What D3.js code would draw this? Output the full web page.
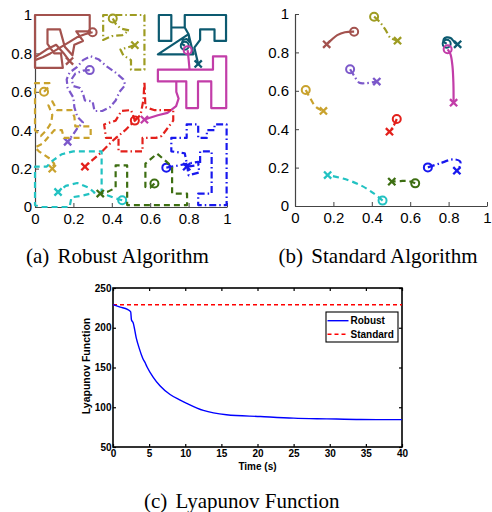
<!DOCTYPE html>
<html><head><meta charset="utf-8">
<script src="https://cdn.jsdelivr.net/npm/d3@7"></script>
<style>body{margin:0;background:#fff}svg{display:block}</style>
</head><body>
<svg id="c" width="492" height="512"></svg>
<script>
// ---------- data ----------
const agentNames = ["brown","olive","teal","magenta","purple","gold","red","blue","cyan","green"];
const agentColors = ["#A3524E","#9E9C22","#0C5A70","#C23DA8","#7C58CA","#C9A22D","#E3201B","#1818EE","#22C2C2","#3D6E12"];
const agentLineStyle = ["solid","dashdot","solid","solid","dashdot","dashed","dashdot","dashdot","dashed","dashed"];

// Robust algorithm trajectories [x, y]; first point = start (o), last point = end (x)
const robustBrown = [[0.30,0.91],[0.26,0.90],[0.22,0.885],[0.18,0.86],[0.13,0.83],[0.08,0.80],[0.04,0.78],[0.0,0.765],[0.0,1.0],[0.285,1.0],[0.285,0.915],[0.215,0.915],[0.25,0.865],[0.205,0.845],[0.195,0.79],[0.155,0.835],[0.13,0.925],[0.065,0.925],[0.065,0.85],[0.10,0.80],[0.135,0.80],[0.145,0.725],[0.0,0.725],[0.0,0.78],[0.06,0.82],[0.11,0.845],[0.15,0.80],[0.18,0.76]];
const robustOlive = [[0.405,0.982],[0.42,0.955],[0.445,0.93],[0.49,0.92],[0.455,0.895],[0.40,0.89],[0.355,0.87],[0.355,1.0],[0.57,1.0],[0.57,0.715],[0.50,0.715],[0.50,0.765],[0.46,0.79],[0.445,0.82],[0.48,0.83],[0.52,0.843]];
const robustTeal = [[0.78,0.84],[0.765,0.85],[0.77,0.87],[0.79,0.875],[0.805,0.86],[0.80,0.90],[0.64,0.795],[0.825,0.795],[0.80,0.90],[0.78,0.935],[0.71,0.935],[0.71,0.865],[0.645,0.865],[0.645,1.0],[0.71,1.0],[0.71,0.935],[0.78,0.935],[0.78,1.0],[0.995,1.0],[0.995,0.865],[0.935,0.865],[0.935,0.925],[0.86,0.925],[0.86,0.87],[0.83,0.83],[0.85,0.745]];
const robustMagenta = [[0.795,0.817],[0.80,0.77],[0.805,0.715],[0.927,0.715],[0.927,0.784],[0.996,0.784],[0.996,0.515],[0.918,0.515],[0.918,0.654],[0.849,0.654],[0.849,0.515],[0.788,0.515],[0.788,0.654],[0.64,0.654],[0.64,0.715],[0.805,0.715],[0.64,0.715],[0.64,0.654],[0.736,0.654],[0.736,0.60],[0.748,0.565],[0.735,0.525],[0.69,0.49],[0.64,0.478],[0.59,0.462],[0.57,0.455]];
const robustPurple = [[0.285,0.713],[0.25,0.71],[0.21,0.695],[0.19,0.665],[0.20,0.63],[0.235,0.62],[0.25,0.59],[0.26,0.555],[0.30,0.55],[0.31,0.50],[0.35,0.50],[0.39,0.52],[0.42,0.555],[0.44,0.60],[0.47,0.635],[0.46,0.665],[0.42,0.70],[0.37,0.735],[0.33,0.77],[0.29,0.785],[0.25,0.765],[0.22,0.73],[0.18,0.70],[0.165,0.665],[0.17,0.62],[0.20,0.57],[0.205,0.52],[0.22,0.47],[0.25,0.44],[0.22,0.41],[0.20,0.38],[0.17,0.34]];
const robustGold = [[0.047,0.60],[0.07,0.625],[0.075,0.645],[0.0,0.645],[0.0,0.40],[0.03,0.37],[0.06,0.40],[0.085,0.44],[0.09,0.48],[0.07,0.53],[0.09,0.55],[0.115,0.505],[0.19,0.505],[0.205,0.47],[0.21,0.42],[0.29,0.42],[0.29,0.36],[0.15,0.36],[0.14,0.40],[0.10,0.40],[0.04,0.33],[0.0,0.31],[0.02,0.29],[0.05,0.27],[0.08,0.25],[0.10,0.225],[0.09,0.20]];
const robustRed = [[0.52,0.45],[0.55,0.48],[0.565,0.56],[0.57,0.655],[0.575,0.52],[0.62,0.505],[0.72,0.505],[0.72,0.45],[0.69,0.41],[0.66,0.37],[0.63,0.36],[0.56,0.36],[0.56,0.29],[0.435,0.29],[0.435,0.36],[0.37,0.36],[0.36,0.43],[0.42,0.45],[0.45,0.50],[0.50,0.505],[0.52,0.45],[0.47,0.40],[0.41,0.35],[0.34,0.28],[0.26,0.21]];
const robustBlue = [[0.684,0.205],[0.74,0.215],[0.79,0.225],[0.85,0.235],[0.855,0.18],[0.80,0.165],[0.79,0.23],[0.78,0.28],[0.71,0.29],[0.71,0.36],[0.79,0.36],[0.79,0.43],[0.85,0.43],[0.85,0.36],[0.895,0.36],[0.895,0.40],[0.935,0.40],[0.935,0.43],[0.998,0.43],[0.998,0.01],[0.85,0.01],[0.85,0.07],[0.92,0.07],[0.92,0.29],[0.86,0.29],[0.86,0.22],[0.79,0.21]];
const robustCyan = [[0.454,0.035],[0.42,0.045],[0.38,0.06],[0.347,0.075],[0.347,0.29],[0.20,0.29],[0.14,0.275],[0.09,0.24],[0.06,0.21],[0.0,0.21],[0.0,0.01],[0.03,0.0],[0.18,0.0],[0.19,0.05],[0.25,0.06],[0.31,0.075],[0.28,0.10],[0.22,0.125],[0.16,0.11],[0.12,0.078]];
const robustGreen = [[0.622,0.122],[0.60,0.10],[0.575,0.104],[0.575,0.226],[0.636,0.278],[0.68,0.24],[0.714,0.209],[0.714,0.07],[0.792,0.07],[0.792,0.01],[0.48,0.01],[0.48,0.217],[0.42,0.217],[0.42,0.10],[0.38,0.08],[0.34,0.07]];

// Standard algorithm trajectories
const standardBrown = [[0.308,0.908],[0.26,0.905],[0.22,0.89],[0.19,0.865],[0.165,0.842]];
const standardOlive = [[0.412,0.986],[0.44,0.96],[0.47,0.92],[0.497,0.876],[0.534,0.861]];
const standardTeal = [[0.79,0.845],[0.775,0.855],[0.775,0.87],[0.79,0.878],[0.81,0.875],[0.825,0.86],[0.835,0.848],[0.847,0.842]];
const standardMagenta = [[0.795,0.816],[0.81,0.79],[0.82,0.73],[0.825,0.64],[0.826,0.538]];
const standardPurple = [[0.287,0.712],[0.31,0.675],[0.335,0.642],[0.37,0.64],[0.426,0.648]];
const standardGold = [[0.056,0.604],[0.08,0.56],[0.11,0.515],[0.148,0.495]];
const standardRed = [[0.53,0.453],[0.515,0.42],[0.492,0.387]];
const standardBlue = [[0.692,0.201],[0.755,0.222],[0.825,0.243],[0.86,0.232],[0.86,0.21],[0.843,0.184]];
const standardCyan = [[0.456,0.028],[0.41,0.066],[0.34,0.109],[0.25,0.143],[0.17,0.161]];
const standardGreen = [[0.626,0.118],[0.59,0.13],[0.55,0.13],[0.504,0.127]];

const robustPaths = [robustBrown,robustOlive,robustTeal,robustMagenta,robustPurple,robustGold,robustRed,robustBlue,robustCyan,robustGreen];
const standardPaths = [standardBrown,standardOlive,standardTeal,standardMagenta,standardPurple,standardGold,standardRed,standardBlue,standardCyan,standardGreen];

const unitTicks = [0,0.2,0.4,0.6,0.8,1];
const unitTickLabels = ["0","0.2","0.4","0.6","0.8","1"];

// Lyapunov function
const lyapTime   = [0,1,2,2.45,2.55,2.8,3.2,3.6,4.1,4.5,4.7,5.55,6.5,7.9,9.3,10.2,12.5,15.7,20.4,25,29.6,34.3,40];
const lyapRobust = [229,226,223,220,210,206,188,175,162,155,151,138,127,116,109,105,96,90.5,88.3,86.3,85.4,84.6,84.4];
const lyapStdTime = [0,40];
const lyapStandard = [229,229];
const lyapXTicks = [0,5,10,15,20,25,30,35,40];
const lyapYTicks = [50,100,150,200,250];
const legendLabels = ["Robust","Standard"];
const xLabel = "Time (s)", yLabel = "Lyapunov Function";
const captions = [["(a)","Robust Algorithm"],["(b)","Standard Algorithm"],["(c)","Lyapunov Function"]];

// ---------- drawing ----------
const svg = d3.select("#c");
const dashes = {solid:null, dashed:"6,4", dashdot:"7,3,1.5,3"};
const sans = "'Liberation Sans', Arial, Helvetica, sans-serif";
const serif = "'Liberation Serif', 'Times New Roman', serif";

function trajPanel(paths, xr, yr, ypad, curve) {
  const x = d3.scaleLinear([0,1], xr), y = d3.scaleLinear([0,1], yr);
  const g = svg.append("g");
  const fmt = (d,i) => unitTickLabels[unitTicks.indexOf(d)];
  const ax = g.append("g").attr("transform", `translate(0,${yr[0]})`)
    .call(d3.axisBottom(x).tickValues(unitTicks).tickFormat(fmt).tickSizeInner(-4).tickSizeOuter(0).tickPadding(6));
  const ay = g.append("g").attr("transform", `translate(${xr[0]},0)`)
    .call(d3.axisLeft(y).tickValues(unitTicks).tickFormat(fmt).tickSizeInner(-4).tickSizeOuter(0).tickPadding(ypad));
  [ax, ay].forEach(a => {
    a.select(".domain").attr("stroke","#444").attr("stroke-width",1.2);
    a.selectAll(".tick line").attr("stroke","#444");
    a.selectAll("text").attr("font-family", sans).attr("font-size", 15).attr("fill","#000");
  });
  const line = d3.line().x(d => x(d[0])).y(d => y(d[1])).curve(curve);
  paths.forEach((p, i) => {
    const col = agentColors[i];
    g.append("path").attr("d", line(p)).attr("fill","none").attr("stroke", col)
      .attr("stroke-width", 2.2).attr("stroke-linejoin","round")
      .attr("stroke-dasharray", dashes[agentLineStyle[i]]);
    const s = p[0], e = p[p.length-1];
    g.append("circle").attr("cx", x(s[0])).attr("cy", y(s[1])).attr("r", 4)
      .attr("fill","none").attr("stroke", col).attr("stroke-width", 2);
    const ex = x(e[0]), ey = y(e[1]), k = 3.6;
    g.append("path").attr("d", `M${ex-k},${ey-k}L${ex+k},${ey+k}M${ex-k},${ey+k}L${ex+k},${ey-k}`)
      .attr("stroke", col).attr("stroke-width", 2.3);
  });
}
trajPanel(robustPaths, [35,227], [207,15], 3, d3.curveLinear);
trajPanel(standardPaths, [295,487], [206,14], 6, d3.curveCatmullRom);

// Lyapunov panel
(function(){
  const xr = [113,402], yr = [447,288];
  const x = d3.scaleLinear([0,40], xr), y = d3.scaleLinear([50,250], yr);
  const g = svg.append("g");
  const bold = a => a.selectAll("text").attr("font-family", sans).attr("font-size", 10).attr("font-weight","bold").attr("fill","#000");
  const bx = g.append("g").attr("transform",`translate(0,${yr[0]})`)
    .call(d3.axisBottom(x).tickValues(lyapXTicks).tickSizeInner(-3).tickSizeOuter(0).tickPadding(3));
  const tx = g.append("g").attr("transform",`translate(0,${yr[1]})`)
    .call(d3.axisTop(x).tickValues(lyapXTicks).tickFormat("").tickSizeInner(-3).tickSizeOuter(0));
  const ly = g.append("g").attr("transform",`translate(${xr[0]},0)`)
    .call(d3.axisLeft(y).tickValues(lyapYTicks).tickSizeInner(-3).tickSizeOuter(0).tickPadding(1.5));
  const ry = g.append("g").attr("transform",`translate(${xr[1]},0)`)
    .call(d3.axisRight(y).tickValues(lyapYTicks).tickFormat("").tickSizeInner(-3).tickSizeOuter(0));
  [bx,tx,ly,ry].forEach(a => { a.select(".domain").remove(); a.selectAll(".tick line").attr("stroke","#000").attr("stroke-width",1.2); bold(a); });
  g.append("rect").attr("x", xr[0]).attr("y", yr[1]).attr("width", xr[1]-xr[0]).attr("height", yr[0]-yr[1])
    .attr("fill","none").attr("stroke","#000").attr("stroke-width",1.6);
  const line = d3.line().x(d => x(d[0])).y(d => y(d[1]));
  g.append("path").attr("d", line(lyapStdTime.map((t,i)=>[t, lyapStandard[i]])))
    .attr("fill","none").attr("stroke","#FF0000").attr("stroke-width",1.4).attr("stroke-dasharray","4,3");
  g.append("path").attr("d", line.curve(d3.curveMonotoneX)(lyapTime.map((t,i)=>[t, lyapRobust[i]])))
    .attr("fill","none").attr("stroke","#0000FF").attr("stroke-width",1.4);
  g.append("text").attr("x", (xr[0]+xr[1])/2).attr("y", 469.5).attr("text-anchor","middle")
    .attr("font-family", sans).attr("font-size",10).attr("font-weight","bold").text(xLabel);
  g.append("text").attr("transform","translate(89.5,366) rotate(-90)").attr("text-anchor","middle")
    .attr("font-family", sans).attr("font-size",10.5).attr("font-weight","bold").text(yLabel);
  // legend
  const lg = g.append("g");
  lg.append("rect").attr("x",326).attr("y",312).attr("width",72).attr("height",30)
    .attr("fill","#fff").attr("stroke","#000").attr("stroke-width",1.1);
  const rows = [{c:"#0000FF", d:null, yy:320.7},{c:"#FF0000", d:"4,3", yy:334.2}];
  rows.forEach((r,i) => {
    lg.append("line").attr("x1",327.5).attr("x2",348.5).attr("y1",r.yy).attr("y2",r.yy)
      .attr("stroke",r.c).attr("stroke-width",1.4).attr("stroke-dasharray",r.d);
    lg.append("text").attr("x",350.5).attr("y",r.yy+3.6).attr("font-family",sans).attr("font-size",10)
      .attr("font-weight","bold").text(legendLabels[i]);
  });
})();

// captions
[[26,263],[278.5,263],[144,508]].forEach((pos,i) => {
  const t = svg.append("text").attr("x",pos[0]).attr("y",pos[1]).attr("font-family",serif).attr("font-size",21).attr("fill","#000");
  t.append("tspan").text(captions[i][0]);
  t.append("tspan").attr("dx",8.3).text(captions[i][1]);
});
</script>
</body></html>
